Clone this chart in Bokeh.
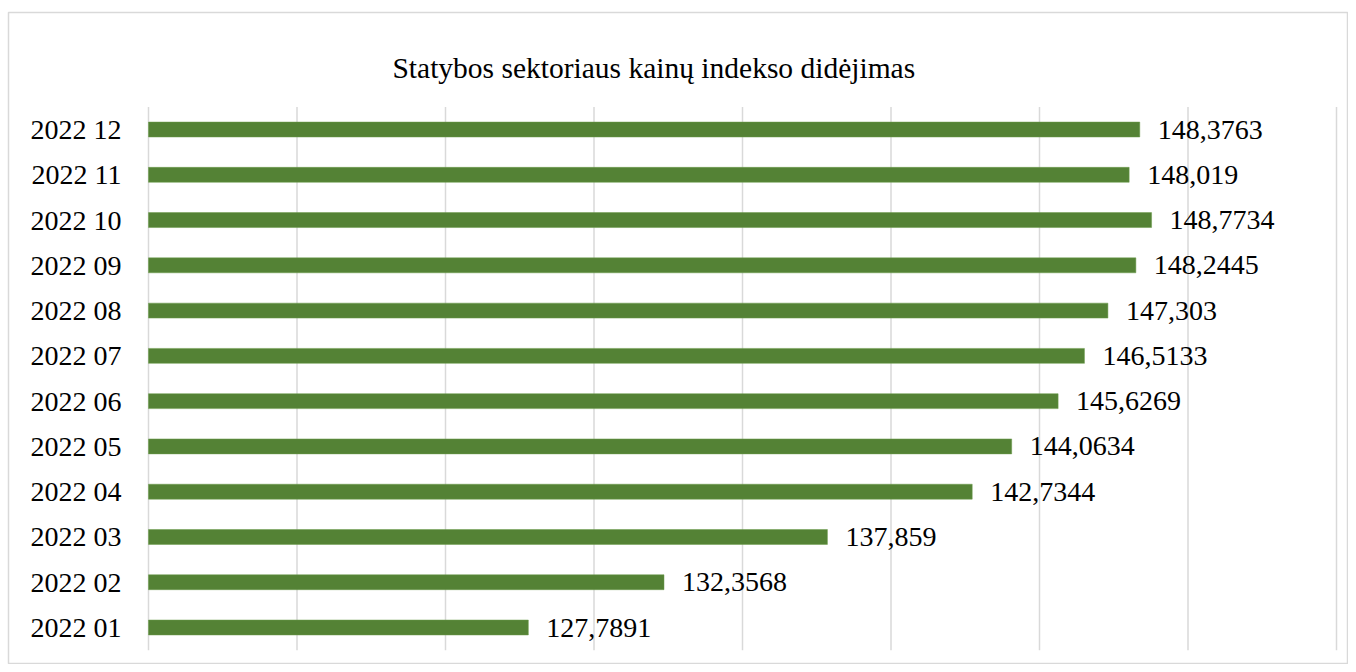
from bokeh.plotting import figure
from bokeh.models import Range1d, Label, LabelSet, ColumnDataSource
from bokeh.embed import file_html
from bokeh.resources import INLINE

months = ["2022 01", "2022 02", "2022 03", "2022 04", "2022 05", "2022 06",
          "2022 07", "2022 08", "2022 09", "2022 10", "2022 11", "2022 12"]
values = [127.7891, 132.3568, 137.859, 142.7344, 144.0634, 145.6269,
          146.5133, 147.303, 148.2445, 148.7734, 148.019, 148.3763]
value_labels = ["127,7891", "132,3568", "137,859", "142,7344", "144,0634", "145,6269",
                "146,5133", "147,303", "148,2445", "148,7734", "148,019", "148,3763"]
x_ticks = [115, 120, 125, 130, 135, 140, 145, 150, 155]
axis_min = 115
title_text = "Statybos sektoriaus kainų  indekso didėjimas"

FONT = "Liberation Serif"
px_per_unit = 29.7
W, H = 1348, 664
ML, MT = 8, 12
frame_w = W - ML
frame_h = H - MT
x_start = axis_min - (148 - ML) / px_per_unit
x_end = x_start + frame_w / px_per_unit
cat_px = 45.27
y_start = (627 - H) / cat_px
y_end = (627 - MT) / cat_px

idx = list(range(len(months)))
src = ColumnDataSource(dict(y=idx, v=values, lab=value_labels, m=months,
                            left=[axis_min] * len(idx)))

p = figure(width=W, height=H, output_backend="svg", toolbar_location=None,
           x_range=Range1d(x_start, x_end), y_range=Range1d(y_start, y_end),
           x_axis_location=None, y_axis_location=None,
           min_border=0, min_border_top=MT, min_border_left=ML)
p.xgrid.visible = False
p.ygrid.visible = False
p.outline_line_color = "#d9d9d9"
p.outline_line_width = 1.5
p.background_fill_color = "white"
p.border_fill_color = "white"

n = len(months)
p.segment(x0=x_ticks, x1=x_ticks, y0=[-0.5] * len(x_ticks), y1=[n - 0.5] * len(x_ticks),
          line_color="#d9d9d9", line_width=1.5)

p.hbar(y="y", left="left", right="v", height=0.33, source=src,
       fill_color="#548235", line_color="#6a9a4a", line_width=0.5)

p.add_layout(LabelSet(x="v", y="y", text="lab", source=src, x_offset=18,
                      text_align="left", text_baseline="middle",
                      text_font=FONT, text_font_size="28px", text_color="black"))

p.add_layout(LabelSet(x="left", y="y", text="m", source=src, x_offset=-27,
                      text_align="right", text_baseline="middle",
                      text_font=FONT, text_font_size="28px", text_color="black"))

title_x = x_start + (657 - ML) / px_per_unit
title_y = (627 - 67) / cat_px
p.add_layout(Label(x=title_x, y=title_y, text=title_text, text_align="center",
                   text_baseline="middle", text_font=FONT, text_font_size="29.5px",
                   text_color="black"))

open("out.html", "w").write(file_html(p, INLINE))
